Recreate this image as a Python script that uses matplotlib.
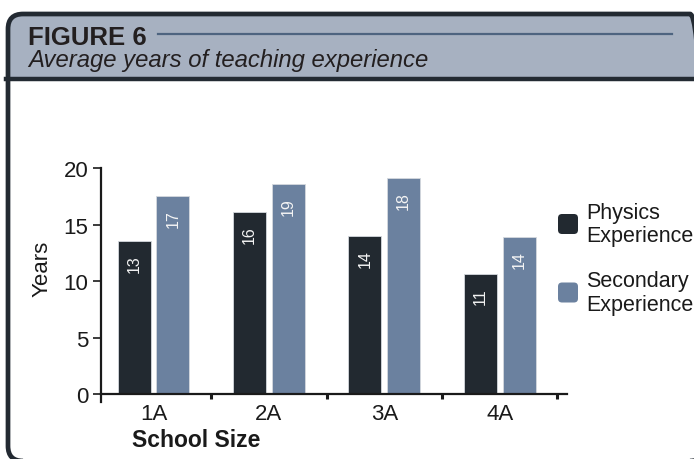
import numpy as np
import matplotlib
matplotlib.use('Agg')
import matplotlib.pyplot as plt
from matplotlib.patches import FancyBboxPatch, Rectangle
from matplotlib.lines import Line2D

# data
schools = ['1A', '2A', '3A', '4A']
physics = [13.5, 16.1, 14.0, 10.6]
secondary = [17.5, 18.6, 19.1, 13.9]
physics_lbl = ['13', '16', '14', '11']
secondary_lbl = ['17', '19', '18', '14']
series_names = ['Physics\nExperience', 'Secondary\nExperience']

dark = '#222930'
slate = '#6b819f'
header_bg = '#a7b1c1'
border = '#232a32'

plt.rcParams['font.family'] = ['Liberation Sans', 'DejaVu Sans']

W, H = 6.94, 4.60
fig = plt.figure(figsize=(W, H), dpi=100)
tr = fig.dpi_scale_trans

def px(x, y):
    # pixel (from top-left) -> inches (from bottom-left)
    return x / 100.0, (460 - y) / 100.0

# panel: header fill, white body, separator, rounded border
x0, y0 = px(8, 462)
panel = FancyBboxPatch((x0, y0), 7.05 - x0, (460 - 15) / 100.0 - y0,
                       boxstyle='round,pad=0,rounding_size=0.15',
                       transform=tr, facecolor=header_bg, edgecolor='none', zorder=0)
fig.patches.append(panel)
bx, by = px(9, 470)
fig.patches.append(Rectangle((bx, by), 7.2, (470 - 80) / 100.0, transform=tr,
                             facecolor='white', edgecolor='none', zorder=0.5))
fig.lines.append(Line2D([0.06, 7.2], [px(0, 79.5)[1]] * 2, transform=tr,
                        color=border, lw=3.2, zorder=1))
frame = FancyBboxPatch((x0, y0), 7.05 - x0, (460 - 15) / 100.0 - y0,
                       boxstyle='round,pad=0,rounding_size=0.15',
                       transform=tr, facecolor='none', edgecolor=border, lw=3.4, zorder=2)
fig.patches.append(frame)

fig.text(*px(28, 45), 'FIGURE 6', transform=tr, fontweight='bold',
         fontsize=18.5, color='#231f20', va='baseline', ha='left', zorder=3)
fig.lines.append(Line2D([1.58, 6.72], [px(0, 35)[1]] * 2, transform=tr,
                        color='#4e6480', lw=1.6, zorder=3))
fig.text(*px(28, 67), 'Average years of teaching experience', transform=tr,
         style='italic', fontsize=17.2, color='#231f20', va='baseline', ha='left', zorder=3)

# chart
ax = fig.add_axes([101 / 694, 57 / 460, 466 / 694, 234 / 460])
ax.set_zorder(3)
ax.patch.set_alpha(0)
x = np.arange(len(schools))
w = 0.285
off = 0.168
b1 = ax.bar(x - off, physics, w, color=dark, edgecolor='#d5d9de', linewidth=0.6)
b2 = ax.bar(x + off, secondary, w, color=slate, edgecolor='#d5d9de', linewidth=0.6)
for bars, labs in ((b1, physics_lbl), (b2, secondary_lbl)):
    for r, t in zip(bars, labs):
        ax.annotate(t, (r.get_x() + r.get_width() / 2, r.get_height()),
                    xytext=(0, -9.5), textcoords='offset points', rotation=90,
                    ha='center', va='top', color='#f4f4f4', fontsize=11.5)

ax.set_xlim(-0.455, 3.583)
ax.set_ylim(-0.7, 20)
ax.spines['top'].set_visible(False)
ax.spines['right'].set_visible(False)
ax.spines['bottom'].set_position(('data', 0))
for s in ('left', 'bottom'):
    ax.spines[s].set_linewidth(1.6)
    ax.spines[s].set_color('#1a1a1a')
ax.spines['left'].set_bounds(-0.7, 20)

ax.set_yticks([0, 5, 10, 15, 20])
ax.tick_params(axis='y', length=6, width=1.2, pad=3, labelsize=16, colors='#1a1a1a')
ax.set_xticks(x)
ax.set_xticklabels(schools)
ax.set_xticks(x + 0.5, minor=True)
ax.tick_params(axis='x', which='major', length=0, pad=6.5, labelsize=16, colors='#1a1a1a')
ax.tick_params(axis='x', which='minor', length=3.5, width=2.2, color='#1a1a1a')

ax.set_ylabel('Years', fontsize=16, color='#1a1a1a')
ax.yaxis.set_label_coords(-0.105, 0.573)
ax.set_xlabel('School Size', fontsize=16.5, fontweight='bold', color='#1a1a1a', ha='left')
ax.xaxis.set_label_coords(0.066, -0.11)

# legend
for i, (name, c) in enumerate(zip(series_names, [dark, slate])):
    cy = 225 + i * 68.5
    lx, ly = px(558, cy + 10)
    fig.patches.append(FancyBboxPatch((lx, ly), 0.20, 0.20, transform=tr,
                                      boxstyle='round,pad=0,rounding_size=0.04',
                                      facecolor=c, edgecolor='none', zorder=3))
    fig.text(*px(586, cy), name, transform=tr, fontsize=15.5, color='#1a1a1a',
             va='center', ha='left', linespacing=1.15, zorder=3)

fig.savefig('out.png', dpi=100)
